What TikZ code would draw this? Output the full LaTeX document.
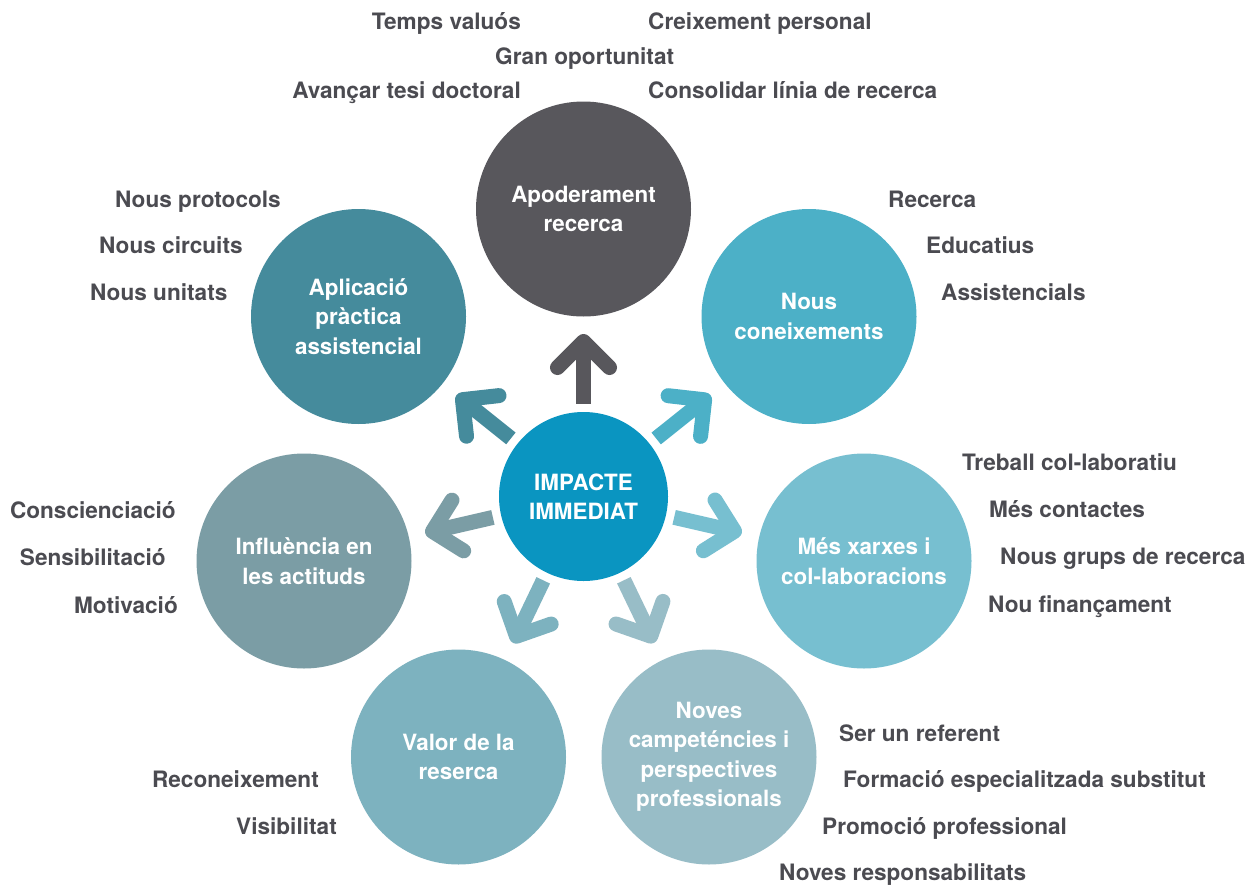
\documentclass[tikz,border=0pt]{standalone}
\usepackage{fontspec}
\setmainfont{TeX Gyre Heros}
\usetikzlibrary{calc}
\definecolor{cApo}{HTML}{58575C}
\definecolor{cApl}{HTML}{458B9C}
\definecolor{cCon}{HTML}{4CB0C7}
\definecolor{cInf}{HTML}{7B9DA5}
\definecolor{cXar}{HTML}{77BFD0}
\definecolor{cVal}{HTML}{7DB2BF}
\definecolor{cNov}{HTML}{98BDC7}
\definecolor{cImp}{HTML}{0A95C1}
\definecolor{cTxt}{HTML}{4B4B51}
\tikzset{
  bub/.style={circle, minimum size=215pt, inner sep=0pt, text=white, align=center,
    font=\bfseries\fontsize{22.4}{29.5}\selectfont},
  lab/.style={text=cTxt, inner sep=0pt, yshift=-5pt, font=\bfseries\fontsize{22.6}{26}\selectfont},
  labL/.style={lab, anchor=mid west},
  labR/.style={lab, anchor=mid east},
  shaftline/.style={line width=15pt},
  headline/.style={line width=15pt, line cap=round, line join=round},
}
\newcommand\radarrow[2]{%
  \draw[shaftline, #2] ($(imp)!93pt!(#1)$) -- ($(imp)!155pt!(#1)$);
  \draw[headline, #2] ($(imp)!131.6pt!11.4:(#1)$) -- ($(imp)!155pt!(#1)$) -- ($(imp)!131.6pt!-11.4:(#1)$);
}
\begin{document}
\begin{tikzpicture}[x=1pt,y=-1pt]
\useasboundingbox (0,0) rectangle (1247,886);
\fill[white] (0,0) rectangle (1247,886);
% circles
\node[bub, fill=cApo] (apo) at (583.5,209) {Apoderament\\recerca};
\node[bub, fill=cApl] (apl) at (358.5,316.5) {Aplicació\\pràctica\\assistencial};
\node[bub, fill=cCon] (con) at (809,316.5) {Nous\\coneixements};
\node[bub, fill=cInf] (inf) at (304,561) {Influència en\\les actituds};
\node[bub, fill=cXar] (xar) at (864,561) {Més xarxes i\\col-laboracions};
\node[bub, fill=cVal] (val) at (458.5,757) {Valor de la\\reserca};
\node[bub, fill=cNov] (nov) at (709,757) {Noves\\campeténcies i\\perspectives\\professionals};
\node[bub, fill=cImp, minimum size=169pt] (imp) at (583.5,496.5) {IMPACTE\\IMMEDIAT};
% arrows
\radarrow{apo}{cApo}
\radarrow{apl}{cApl}
\radarrow{con}{cCon}
\radarrow{inf}{cInf}
\radarrow{xar}{cXar}
\radarrow{val}{cVal}
\radarrow{nov}{cNov}
% top labels
\node[labR] (t1) at (521,22) {Temps valuós};
\node[labL] (t2) at (648,22) {Creixement personal};
\node[labL] (t3) at (495,57) {Gran oportunitat};
\node[labR] (t4) at (521,91) {Avançar tesi doctoral};
\node[labL] (t5) at (648,91) {Consolidar línia de recerca};
% aplicacio labels
\node[labL] (a1) at (115,200) {Nous protocols};
\node[labL] (a2) at (99,246) {Nous circuits};
\node[labL] (a3) at (90,293) {Nous unitats};
% coneixements labels
\node[labL] (c1) at (888,200) {Recerca};
\node[labL] (c2) at (926,246) {Educatius};
\node[labL] (c3) at (941,293) {Assistencials};
% influencia labels
\node[labR] (i1) at (176,511) {Conscienciació};
\node[labR] (i2) at (166,558) {Sensibilitació};
\node[labR] (i3) at (178,606) {Motivació};
% xarxes labels
\node[labL] (x1) at (962,463) {Treball col-laboratiu};
\node[labL] (x2) at (989,510) {Més contactes};
\node[labL] (x3) at (1000,557) {Nous grups de recerca};
\node[labL] (x4) at (988,605) {Nou finançament};
% noves labels
\node[labL] (n1) at (839,734) {Ser un referent};
\node[labL] (n2) at (843,780) {Formació especialitzada substitut};
\node[labL] (n3) at (822,827) {Promoció professional};
\node[labL] (n4) at (779,873) {Noves responsabilitats};
% valor labels
\node[labR] (v1) at (319,780) {Reconeixement};
\node[labR] (v2) at (337,827) {Visibilitat};
\end{tikzpicture}
\end{document}
